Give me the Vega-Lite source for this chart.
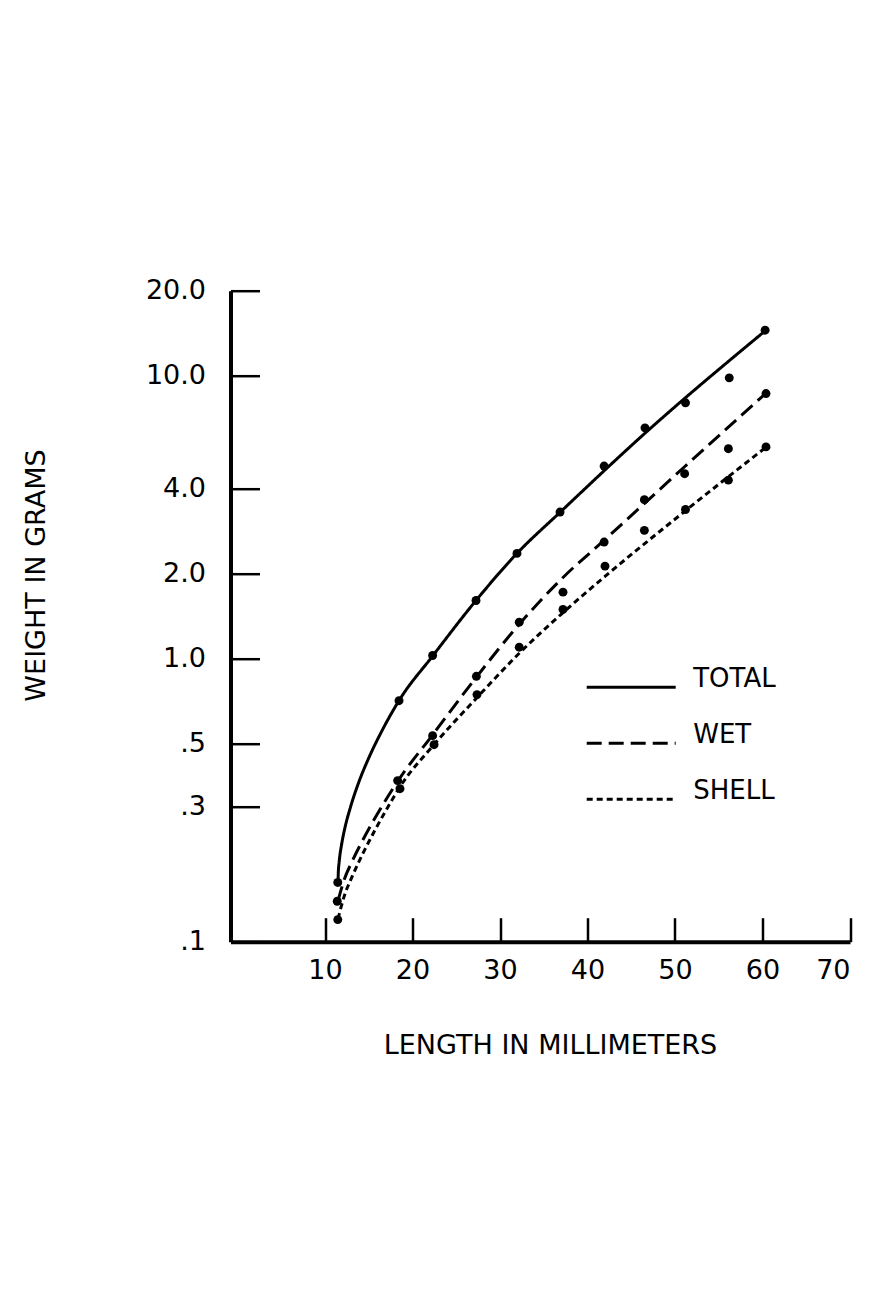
{
  "$schema": "https://vega.github.io/schema/vega-lite/v6.json",
  "width": 619.5,
  "height": 651,
  "autosize": {"type": "none"},
  "padding": {"left": 230.5, "top": 290.7, "right": 29, "bottom": 354.3},
  "background": "white",
  "config": {
    "view": {"stroke": null},
    "font": "DejaVu Sans",
    "axis": {
      "domainColor": "black",
      "domainWidth": 4,
      "tickColor": "black",
      "tickWidth": 2.5,
      "labelColor": "black",
      "labelFont": "DejaVu Sans",
      "labelFontSize": 27,
      "titleFont": "DejaVu Sans",
      "titleFontSize": 27,
      "titleFontWeight": "normal",
      "titleColor": "black",
      "grid": false
    }
  },
  "datasets": {
    "points": [
      {"series": "TOTAL", "length": 11.46, "weight": 0.162},
      {"series": "TOTAL", "length": 18.46, "weight": 0.711},
      {"series": "TOTAL", "length": 22.3, "weight": 1.027},
      {"series": "TOTAL", "length": 27.26, "weight": 1.607},
      {"series": "TOTAL", "length": 31.94, "weight": 2.358},
      {"series": "TOTAL", "length": 36.86, "weight": 3.3},
      {"series": "TOTAL", "length": 41.9, "weight": 4.8},
      {"series": "TOTAL", "length": 46.57, "weight": 6.55},
      {"series": "TOTAL", "length": 51.2, "weight": 8.03},
      {"series": "TOTAL", "length": 56.2, "weight": 9.84},
      {"series": "TOTAL", "length": 60.3, "weight": 14.5},
      {"series": "WET", "length": 11.4, "weight": 0.139},
      {"series": "WET", "length": 18.3, "weight": 0.371},
      {"series": "WET", "length": 22.3, "weight": 0.535},
      {"series": "WET", "length": 27.3, "weight": 0.867},
      {"series": "WET", "length": 32.2, "weight": 1.347},
      {"series": "WET", "length": 37.2, "weight": 1.72},
      {"series": "WET", "length": 41.9, "weight": 2.585},
      {"series": "WET", "length": 46.5, "weight": 3.65},
      {"series": "WET", "length": 51.1, "weight": 4.51},
      {"series": "WET", "length": 56.1, "weight": 5.53},
      {"series": "WET", "length": 60.4, "weight": 8.66},
      {"series": "SHELL", "length": 11.46, "weight": 0.1197},
      {"series": "SHELL", "length": 18.57, "weight": 0.3475},
      {"series": "SHELL", "length": 22.46, "weight": 0.497},
      {"series": "SHELL", "length": 27.37, "weight": 0.747},
      {"series": "SHELL", "length": 32.2, "weight": 1.099},
      {"series": "SHELL", "length": 37.2, "weight": 1.494},
      {"series": "SHELL", "length": 42.0, "weight": 2.126},
      {"series": "SHELL", "length": 46.5, "weight": 2.844},
      {"series": "SHELL", "length": 51.2, "weight": 3.37},
      {"series": "SHELL", "length": 56.1, "weight": 4.28},
      {"series": "SHELL", "length": 60.4, "weight": 5.61}
    ],
    "curves": [
      {"series": "TOTAL", "length": 11.486, "weight": 0.1614},
      {"series": "TOTAL", "length": 11.52, "weight": 0.1751},
      {"series": "TOTAL", "length": 11.634, "weight": 0.1931},
      {"series": "TOTAL", "length": 11.931, "weight": 0.2236},
      {"series": "TOTAL", "length": 12.286, "weight": 0.2534},
      {"series": "TOTAL", "length": 12.891, "weight": 0.2975},
      {"series": "TOTAL", "length": 13.84, "weight": 0.3647},
      {"series": "TOTAL", "length": 15.017, "weight": 0.4473},
      {"series": "TOTAL", "length": 16.4, "weight": 0.5482},
      {"series": "TOTAL", "length": 18.457, "weight": 0.7114},
      {"series": "TOTAL", "length": 22.343, "weight": 1.0267},
      {"series": "TOTAL", "length": 27.257, "weight": 1.607},
      {"series": "TOTAL", "length": 31.943, "weight": 2.358},
      {"series": "TOTAL", "length": 36.857, "weight": 3.293},
      {"series": "TOTAL", "length": 46.571, "weight": 6.27},
      {"series": "TOTAL", "length": 60.286, "weight": 14.41},
      {"series": "WET", "length": 11.486, "weight": 0.1393},
      {"series": "WET", "length": 12.149, "weight": 0.1641},
      {"series": "WET", "length": 13.131, "weight": 0.1931},
      {"series": "WET", "length": 14.274, "weight": 0.2273},
      {"series": "WET", "length": 15.531, "weight": 0.2676},
      {"series": "WET", "length": 16.891, "weight": 0.3149},
      {"series": "WET", "length": 18.343, "weight": 0.3707},
      {"series": "WET", "length": 22.229, "weight": 0.5348},
      {"series": "WET", "length": 27.257, "weight": 0.858},
      {"series": "WET", "length": 32.171, "weight": 1.322},
      {"series": "WET", "length": 37.086, "weight": 1.923},
      {"series": "WET", "length": 41.886, "weight": 2.621},
      {"series": "WET", "length": 51.029, "weight": 4.753},
      {"series": "WET", "length": 60.4, "weight": 8.686},
      {"series": "SHELL", "length": 11.486, "weight": 0.1204},
      {"series": "SHELL", "length": 12.171, "weight": 0.144},
      {"series": "SHELL", "length": 13.189, "weight": 0.1722},
      {"series": "SHELL", "length": 14.366, "weight": 0.2061},
      {"series": "SHELL", "length": 15.669, "weight": 0.2466},
      {"series": "SHELL", "length": 17.074, "weight": 0.295},
      {"series": "SHELL", "length": 18.571, "weight": 0.3529},
      {"series": "SHELL", "length": 22.457, "weight": 0.4972},
      {"series": "SHELL", "length": 27.371, "weight": 0.729},
      {"series": "SHELL", "length": 32.171, "weight": 1.0438},
      {"series": "SHELL", "length": 37.086, "weight": 1.4453},
      {"series": "SHELL", "length": 42.0, "weight": 1.955},
      {"series": "SHELL", "length": 51.257, "weight": 3.348},
      {"series": "SHELL", "length": 60.4, "weight": 5.595}
    ]
  },
  "layer": [
    {
      "data": {"name": "curves"},
      "mark": {"type": "line", "interpolate": "monotone", "strokeWidth": 3, "color": "black"},
      "encoding": {
        "x": {
          "field": "length",
          "type": "quantitative",
          "scale": {"domain": [-0.8, 70], "nice": false, "zero": false},
          "axis": {
            "values": [10, 20, 30, 40, 50, 60, 70],
            "format": "d",
            "tickSize": -24,
            "labelPadding": 40,
            "title": "LENGTH IN MILLIMETERS",
            "titleX": 319.5,
            "titleY": 91,
            "titleBaseline": "top"
          }
        },
        "y": {
          "field": "weight",
          "type": "quantitative",
          "scale": {"type": "log", "domain": [0.1, 20], "nice": false},
          "axis": {
            "values": [0.1, 0.3, 0.5, 1, 2, 4, 10, 20],
            "labelExpr": "datum.value >= 1 ? format(datum.value, '.1f') : replace(format(datum.value, '.1f'), '0.', '.')",
            "tickSize": -29,
            "labelPadding": 54,
            "title": "WEIGHT IN GRAMS",
            "titleX": -180.5,
            "titleY": 284.3
          }
        },
        "strokeDash": {
          "field": "series",
          "type": "nominal",
          "scale": {"domain": ["TOTAL", "WET", "SHELL"], "range": [[1, 0], [15, 7], [6, 4]]},
          "legend": {
            "title": null,
            "orient": "none",
            "legendX": 354.7,
            "legendY": 371.6,
            "symbolType": "stroke",
            "symbolSize": 7921,
            "symbolStrokeWidth": 3,
            "symbolStrokeColor": "black",
            "clipHeight": 50,
            "rowPadding": 6,
            "labelBaseline": "alphabetic",
            "labelOffset": 16,
            "labelFontSize": 26,
            "labelFont": "DejaVu Sans",
            "labelColor": "black",
            "labelLimit": 400
          }
        }
      }
    },
    {
      "data": {"name": "points"},
      "mark": {"type": "circle", "size": 80, "color": "black", "opacity": 1},
      "encoding": {
        "x": {"field": "length", "type": "quantitative"},
        "y": {"field": "weight", "type": "quantitative"}
      }
    }
  ]
}
